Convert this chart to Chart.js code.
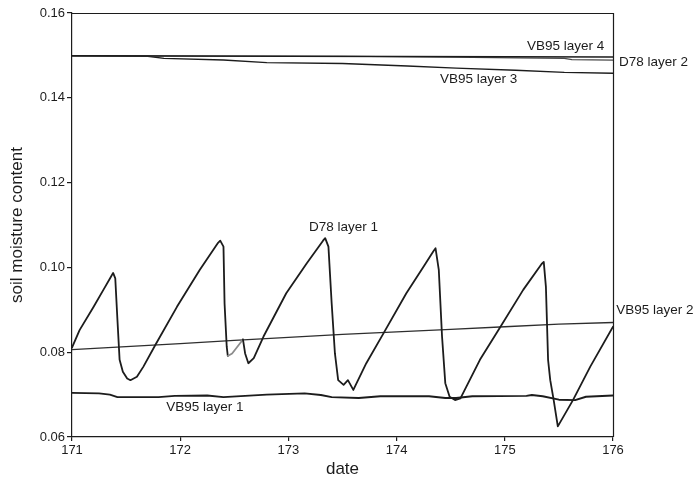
<!DOCTYPE html>
<html>
<head>
<meta charset="utf-8">
<title>soil moisture content</title>
<script src="https://cdn.jsdelivr.net/npm/chart.js@4/dist/chart.umd.min.js"></script>
<style>
  html, body { margin: 0; padding: 0; background: #ffffff; }
  #wrap { width: 697px; height: 483px; }
</style>
</head>
<body>
<div id="wrap"><canvas id="chart" width="697" height="483"></canvas></div>
<script>
// ---- axis ticks ----
const xTicks = [171, 172, 173, 174, 175, 176];
const xTickLabels = ['171', '172', '173', '174', '175', '176'];
const yTicks = [0.06, 0.08, 0.10, 0.12, 0.14, 0.16];
const yTickLabels = ['0.06', '0.08', '0.10', '0.12', '0.14', '0.16'];

// ---- D78 layer 1 (daily wetting / drying cycle) ----
const d78Layer1Day = [171.0, 171.07, 171.2, 171.29, 171.36, 171.38, 171.40, 171.42, 171.44, 171.47, 171.51, 171.54,
  171.6, 171.66, 171.77, 171.97, 172.18, 172.35, 172.37, 172.40, 172.41, 172.43, 172.44,
  172.48, 172.58, 172.60, 172.63, 172.68, 172.77, 172.98, 173.17, 173.32, 173.34, 173.37,
  173.40, 173.43, 173.46, 173.51, 173.55, 173.60, 173.72, 173.88, 174.09, 174.25,
  174.34, 174.36, 174.39, 174.42, 174.45, 174.49, 174.54, 174.59, 174.77, 174.96, 175.17,
  175.34, 175.36, 175.38, 175.40, 175.42, 175.45, 175.49, 175.63, 175.79, 176.0];
const d78Layer1 = [0.0811, 0.0852, 0.0907, 0.0947, 0.0978, 0.0987, 0.0974, 0.0876, 0.0782, 0.0754, 0.0738, 0.0734,
  0.0742, 0.0766, 0.0817, 0.0907, 0.0994, 0.1058, 0.1063, 0.1049, 0.0915, 0.0813, 0.0791,
  0.0797, 0.0830, 0.0797, 0.0774, 0.0786, 0.0837, 0.0939, 0.1010, 0.1063, 0.1069, 0.1049,
  0.0915, 0.0797, 0.0734, 0.0723, 0.0734, 0.0711, 0.0774, 0.0845, 0.0939, 0.1002,
  0.1038, 0.1045, 0.0994, 0.0837, 0.0727, 0.0695, 0.0687, 0.0691, 0.0782, 0.0860, 0.0947,
  0.1008, 0.1013, 0.0954, 0.0782, 0.0734, 0.0690, 0.0625, 0.0687, 0.0766, 0.0860];

// ---- D78 layer 2 ----
const d78Layer2Day = [171, 176];
const d78Layer2 = [0.1499, 0.1496];

// ---- VB95 layers ----
const vb95Layer1Day = [171.0, 171.25, 171.35, 171.42, 171.8, 171.95, 172.25, 172.4, 172.6, 172.8,
  173.15, 173.3, 173.4, 173.65, 173.85, 174.3, 174.45, 174.55, 174.7, 175.2,
  175.25, 175.35, 175.5, 175.65, 175.75, 176.0];
const vb95Layer1 = [0.0704, 0.0703, 0.0700, 0.0694, 0.0694, 0.0697, 0.0698, 0.0694, 0.0697, 0.0700,
  0.0703, 0.0699, 0.0694, 0.0692, 0.0696, 0.0696, 0.0692, 0.0692, 0.0696, 0.0697,
  0.0699, 0.0696, 0.0688, 0.0687, 0.0695, 0.0698];

const vb95Layer2Day = [171, 171.5, 172, 172.5, 173, 173.5, 174, 174.5, 175, 175.5, 176];
const vb95Layer2 = [0.0806, 0.0813, 0.0820, 0.0828, 0.0835, 0.0842, 0.0848, 0.0854, 0.0860, 0.0866, 0.0870];

const vb95Layer3Day = [171, 171.7, 171.85, 172.4, 172.8, 173.5, 174.1, 174.55, 175.1, 175.55, 176];
const vb95Layer3 = [0.1499, 0.1498, 0.1493, 0.1489, 0.1483, 0.1481, 0.1475, 0.1470, 0.1465, 0.1460, 0.1458];

const vb95Layer4Day = [171, 173.5, 174.5, 175.1, 175.55, 175.62, 176];
const vb95Layer4 = [0.1499, 0.1498, 0.1496, 0.1494, 0.1493, 0.1490, 0.1489];

// ---- series names written next to the curves (anchor in data units) ----
const seriesNames = ['VB95 layer 4', 'D78 layer 2', 'VB95 layer 3', 'D78 layer 1', 'VB95 layer 2', 'VB95 layer 1'];
const nameAtDay = [175.205, 176.055, 174.40, 173.19, 176.03, 171.87];
const nameAtValue = [0.1522, 0.1484, 0.1444, 0.1095, 0.0900, 0.0671];

const FONT = '"Liberation Sans", Arial, Helvetica, sans-serif';
const INK = '#1c1c1c';

function pairs(days, vals) {
  return days.map((d, i) => ({ x: d, y: vals[i] }));
}

// short stretch of the D78 layer 1 curve drawn in a lighter pen
const LIGHT_FROM = 172.435, LIGHT_TO = 172.585;

const frameAndNames = {
  id: 'frameAndNames',
  afterDraw(chart) {
    const { ctx, chartArea: a, scales } = chart;
    ctx.save();
    ctx.strokeStyle = INK;
    ctx.lineWidth = 1.2;
    ctx.beginPath();
    ctx.moveTo(a.left, a.top + 0.5);
    ctx.lineTo(a.right + 0.5, a.top + 0.5);
    ctx.lineTo(a.right + 0.5, a.bottom);
    ctx.stroke();

    ctx.fillStyle = INK;
    ctx.font = '13.5px ' + FONT;
    ctx.textAlign = 'left';
    ctx.textBaseline = 'middle';
    seriesNames.forEach((t, i) => {
      ctx.fillText(t, scales.x.getPixelForValue(nameAtDay[i]), scales.y.getPixelForValue(nameAtValue[i]));
    });
    ctx.restore();
  }
};

new Chart(document.getElementById('chart'), {
  type: 'line',
  data: {
    datasets: [
      {
        label: 'D78 layer 1',
        data: pairs(d78Layer1Day, d78Layer1),
        borderColor: INK,
        borderWidth: 1.8,
        tension: 0,
        segment: {
          borderColor: c => (c.p0.parsed.x >= LIGHT_FROM && c.p1.parsed.x <= LIGHT_TO) ? '#8c8c8c' : INK
        }
      },
      {
        label: 'VB95 layer 2',
        data: pairs(vb95Layer2Day, vb95Layer2),
        borderColor: '#2e2e2e',
        borderWidth: 1.3
      },
      {
        label: 'VB95 layer 1',
        data: pairs(vb95Layer1Day, vb95Layer1),
        borderColor: INK,
        borderWidth: 1.9,
        tension: 0
      },
      {
        label: 'D78 layer 2',
        data: pairs(d78Layer2Day, d78Layer2),
        borderColor: INK,
        borderWidth: 1.5
      },
      {
        label: 'VB95 layer 4',
        data: pairs(vb95Layer4Day, vb95Layer4),
        borderColor: '#4a4a4a',
        borderWidth: 1.2
      },
      {
        label: 'VB95 layer 3',
        data: pairs(vb95Layer3Day, vb95Layer3),
        borderColor: INK,
        borderWidth: 1.4
      }
    ]
  },
  options: {
    responsive: false,
    animation: false,
    devicePixelRatio: 1,
    parsing: true,
    elements: { point: { radius: 0, hoverRadius: 0 }, line: { borderCapStyle: 'round', borderJoinStyle: 'round' } },
    layout: { padding: { left: 0, right: 84, top: 13, bottom: 0 } },
    plugins: { legend: { display: false }, tooltip: { enabled: false } },
    events: [],
    scales: {
      x: {
        type: 'linear',
        min: 171,
        max: 176,
        afterBuildTicks: s => { s.ticks = xTicks.map(v => ({ value: v })); },
        afterFit: s => { s.height = 46; },
        border: { display: true, color: INK, width: 1.2 },
        grid: { display: true, drawOnChartArea: false, drawTicks: true, tickLength: 4, color: INK, lineWidth: 1.2 },
        ticks: {
          color: INK,
          padding: 2,
          maxRotation: 0,
          font: { family: FONT, size: 13 },
          callback: (v, i) => xTickLabels[i]
        },
        title: {
          display: true,
          text: 'date',
          color: INK,
          font: { family: FONT, size: 17 },
          padding: { top: 0, bottom: 3 }
        }
      },
      y: {
        type: 'linear',
        min: 0.06,
        max: 0.16,
        afterBuildTicks: s => { s.ticks = yTicks.map(v => ({ value: v })); },
        afterFit: s => { s.width = 72; },
        border: { display: true, color: INK, width: 1.2 },
        grid: { display: true, drawOnChartArea: false, drawTicks: true, tickLength: 5, color: INK, lineWidth: 1.2 },
        ticks: {
          color: INK,
          padding: 2,
          font: { family: FONT, size: 13 },
          callback: (v, i) => yTickLabels[i]
        },
        title: {
          display: true,
          text: 'soil moisture content',
          color: INK,
          font: { family: FONT, size: 17 },
          padding: { top: 7, bottom: 0 }
        }
      }
    }
  },
  plugins: [frameAndNames]
});
</script>
</body>
</html>
